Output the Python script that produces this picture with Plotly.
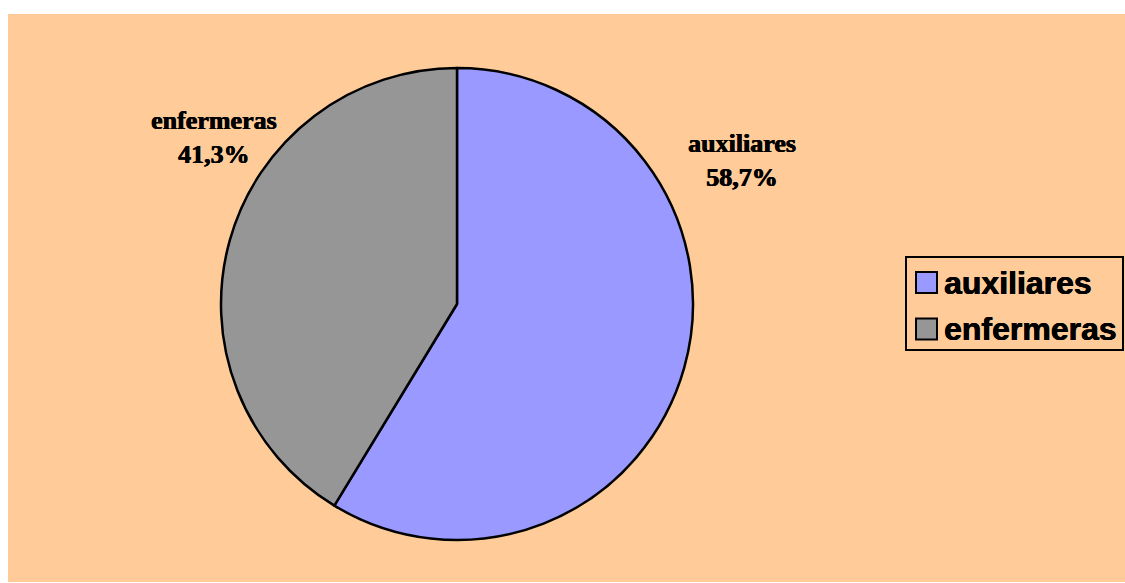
import plotly.graph_objects as go

# Staff composition
labels = ["auxiliares", "enfermeras"]
values = [58.7, 41.3]
colors = ["#9999FF", "#969696"]

W, H = 1125, 583
HEAVY = "0.5px 0 0 black, -0.3px 0 0 black"


def px(x):
    return x / W


def py(y):
    return 1 - y / H


def pct(v):
    return f"{v:.1f}".replace(".", ",") + "%"


fig = go.Figure(
    go.Pie(
        labels=labels,
        values=values,
        sort=False,
        direction="clockwise",
        rotation=0,
        marker=dict(colors=colors, line=dict(color="black", width=2.5)),
        textinfo="none",
        hoverinfo="label+percent",
        showlegend=False,
        domain=dict(x=[px(221), px(693)], y=[py(540), py(68)]),
    )
)

shapes = [
    # chart area background
    dict(type="rect", xref="paper", yref="paper", x0=px(8), x1=1, y0=py(582), y1=py(14),
         fillcolor="#FFCC99", line=dict(width=0), layer="below"),
    # legend frame
    dict(type="rect", xref="paper", yref="paper", x0=px(906), x1=px(1123), y0=py(350), y1=py(257),
         fillcolor="rgba(0,0,0,0)", line=dict(color="black", width=2)),
]

annotations = []

# slice labels
label_pos = {"auxiliares": (742, 160), "enfermeras": (214, 137)}
for lab, v in zip(labels, values):
    x, y = label_pos[lab]
    annotations.append(dict(
        xref="paper", yref="paper", x=px(x), y=py(y), xanchor="center", yanchor="middle",
        text=f"<b>{lab}<br>{pct(v)}</b>", showarrow=False, align="center",
        font=dict(family="Liberation Serif, Times New Roman, serif", size=26, color="black",
                  weight="bold", shadow=HEAVY),
    ))

# legend entries
row_y = [282.5, 329]
for lab, col, ry in zip(labels, colors, row_y):
    shapes.append(dict(type="rect", xref="paper", yref="paper",
                       x0=px(916), x1=px(937), y0=py(ry + 10.5), y1=py(ry - 10.5),
                       fillcolor=col, line=dict(color="black", width=2)))
    annotations.append(dict(
        xref="paper", yref="paper", x=px(942), y=py(ry), xanchor="left", yanchor="middle",
        text=f"<b>{lab}</b>", showarrow=False,
        font=dict(family="Liberation Sans, Arial, sans-serif", size=32, color="black",
                  weight="bold", shadow=HEAVY),
    ))

fig.update_layout(
    width=W, height=H,
    margin=dict(l=0, r=0, t=0, b=0),
    paper_bgcolor="white",
    shapes=shapes,
    annotations=annotations,
)

fig.write_html("out.html")
